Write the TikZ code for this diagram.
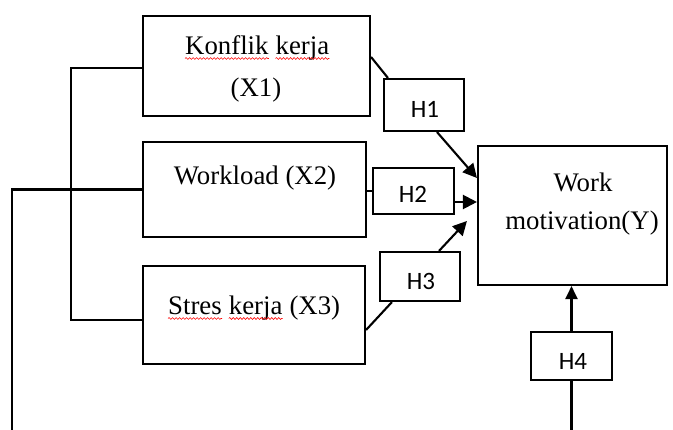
\documentclass[tikz,border=0pt]{standalone}
\usepackage{fontspec}
\setmainfont{Liberation Serif}
\newfontfamily\hfont{Carlito}
\usetikzlibrary{calc,arrows.meta,decorations.pathmorphing}

\tikzset{
  varbox/.style={draw, line width=2.1pt, inner sep=0pt},
  hypbox/.style={draw, line width=2.1pt, inner sep=0pt},
  boxtext/.style={anchor=base, inner sep=0pt, font=\fontsize{26.8}{32}\selectfont},
  wordtext/.style={boxtext, anchor=base west},
  hyptext/.style={anchor=base, inner sep=0pt, font=\hfont\fontsize{25}{30}\selectfont},
  link/.style={line width=2.1pt},
  hyparrow/.style={line width=2.1pt, -{Triangle[length=14pt,width=14pt]}},
  spellwave/.style={red, line width=0.6pt, decorate, decoration={snake, amplitude=0.9pt, segment length=3.5pt}},
}

\begin{document}
\begin{tikzpicture}[x=1pt,y=-1pt]
      \useasboundingbox (0,0) rectangle (673,430);

      % word gap of the box font
      \def\gap{6.7pt}

      % variable boxes
      \node[varbox, minimum width=227pt, minimum height=100pt] (x1) at (256.5,66) {};
      \node[varbox, minimum width=223pt, minimum height=95pt] (x2) at (254.5,189.5) {};
      \node[varbox, minimum width=222pt, minimum height=98pt] (x3) at (254,315) {};
      \node[varbox, minimum width=189pt, minimum height=139pt] (y) at (572.5,215.5) {};

      % hypothesis boxes
      \node[hypbox, minimum width=80pt, minimum height=52pt] (h1) at (424,105) {};
      \node[hypbox, minimum width=81pt, minimum height=46pt] (h2) at (413.5,191) {};
      \node[hypbox, minimum width=80pt, minimum height=49pt] (h3) at (420,276.5) {};
      \node[hypbox, minimum width=81pt, minimum height=48pt] (h4) at (571.5,356) {};

      % texts of the variable boxes
      \node[wordtext] (k1) at (185,55) {Konflik};
      \node[wordtext] (k2) at ([xshift=\gap]k1.base east) {kerja};
      \node[boxtext] (t1b) at (256,97) {(X1)};
      \node[boxtext] (t2) at (255,185) {Workload (X2)};
      \node[wordtext] (s1) at (168,315) {Stres};
      \node[wordtext] (s2) at ([xshift=\gap]s1.base east) {kerja};
      \node[wordtext] (s3) at ([xshift=\gap]s2.base east) {(X3)};
      \node[boxtext] (ty1) at (583,192) {Work};
      \node[boxtext] (ty2) at (582,230) {motivation(Y)};

      % red waves under the flagged words
      \foreach \w in {k1,k2,s1,s2}
        \draw[spellwave] ([yshift=-3.5pt]\w.base west) -- ([yshift=-3.5pt]\w.base east);

      % texts of the hypothesis boxes
      \node[hyptext] at (425,118) {H1};
      \node[hyptext] at (413,203) {H2};
      \node[hyptext] at (421,290) {H3};
      \node[hyptext] at (573,370) {H4};

      % bracket joining the three variables
      \draw[link] ([yshift=-2pt]x1.west) -- ++(-71,0) |- ([yshift=-5pt]x3.west);

      % outer line running into X2
      \coordinate (foot) at (12,432);
      \draw[link] (x2.west) -| (foot);

      % variables to hypotheses
      \draw[link] ([yshift=9pt]x1.east) -- ([xshift=5pt]h1.north west);
      \draw[link] (h2.west) -- (h2.west -| x2.east);
      \draw[link] ([yshift=-15pt]x3.east) -- ([xshift=13pt]h3.south west);

      % hypotheses to work motivation
      \draw[hyparrow] ([xshift=13pt]h1.south) -- ([yshift=37.5pt]y.west);
      \draw[hyparrow] ([yshift=-11pt]h2.east) -- ([yshift=-11pt]h2.east -| y.west);
      \draw[hyparrow] ([xshift=19pt]h3.north) -- ([xshift=-10pt,yshift=-5.5pt]y.west);
      \draw[link, -{Triangle[length=13pt,width=12pt]}] (h4.north) -- (h4.north |- y.south);
      \draw[link] (h4.south) -- (h4.south |- foot);
\end{tikzpicture}
\end{document}
